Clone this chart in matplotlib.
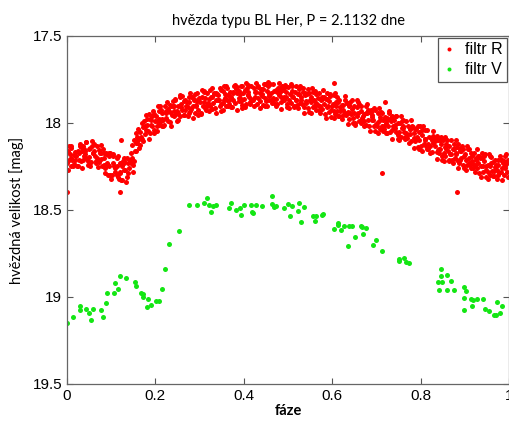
import matplotlib
matplotlib.use("Agg")
import matplotlib.pyplot as plt
from matplotlib.ticker import FormatStrFormatter

# filtr R - phase / magnitude
red_phase = [
    0.001, 0.003, 0.004, 0.007, 0.009, 0.010, 0.012, 0.015, 0.016, 0.018,
    0.021, 0.024, 0.025, 0.028, 0.029, 0.032, 0.033, 0.036, 0.037, 0.039,
    0.041, 0.043, 0.044, 0.047, 0.049, 0.050, 0.052, 0.055, 0.056, 0.058,
    0.061, 0.064, 0.065, 0.068, 0.069, 0.072, 0.073, 0.076, 0.077, 0.079,
    0.081, 0.083, 0.084, 0.087, 0.089, 0.090, 0.092, 0.095, 0.096, 0.098,
    0.101, 0.104, 0.105, 0.108, 0.109, 0.112, 0.113, 0.116, 0.117, 0.119,
    0.121, 0.123, 0.124, 0.127, 0.129, 0.130, 0.132, 0.135, 0.136, 0.138,
    0.141, 0.144, 0.145, 0.148, 0.149, 0.152, 0.153, 0.156, 0.157, 0.159,
    0.161, 0.163, 0.164, 0.167, 0.169, 0.170, 0.172, 0.175, 0.176, 0.178,
    0.181, 0.184, 0.185, 0.188, 0.189, 0.192, 0.193, 0.196, 0.197, 0.199,
    0.201, 0.203, 0.204, 0.207, 0.209, 0.210, 0.212, 0.215, 0.216, 0.218,
    0.221, 0.224, 0.225, 0.228, 0.229, 0.232, 0.233, 0.236, 0.237, 0.239,
    0.241, 0.243, 0.244, 0.247, 0.249, 0.250, 0.252, 0.255, 0.256, 0.258,
    0.261, 0.264, 0.265, 0.268, 0.269, 0.272, 0.273, 0.276, 0.277, 0.279,
    0.281, 0.283, 0.284, 0.287, 0.289, 0.290, 0.292, 0.295, 0.296, 0.298,
    0.301, 0.304, 0.305, 0.308, 0.309, 0.312, 0.313, 0.316, 0.317, 0.319,
    0.321, 0.323, 0.324, 0.327, 0.329, 0.330, 0.332, 0.335, 0.336, 0.338,
    0.341, 0.344, 0.345, 0.348, 0.349, 0.352, 0.353, 0.356, 0.357, 0.359,
    0.361, 0.363, 0.364, 0.367, 0.369, 0.370, 0.372, 0.375, 0.376, 0.378,
    0.381, 0.384, 0.385, 0.388, 0.389, 0.392, 0.393, 0.396, 0.397, 0.399,
    0.401, 0.403, 0.404, 0.407, 0.409, 0.410, 0.412, 0.415, 0.416, 0.418,
    0.421, 0.424, 0.425, 0.428, 0.429, 0.432, 0.433, 0.436, 0.437, 0.439,
    0.441, 0.443, 0.444, 0.447, 0.449, 0.450, 0.452, 0.455, 0.456, 0.458,
    0.461, 0.464, 0.465, 0.468, 0.469, 0.472, 0.473, 0.476, 0.477, 0.479,
    0.481, 0.483, 0.484, 0.487, 0.489, 0.490, 0.492, 0.495, 0.496, 0.498,
    0.501, 0.503, 0.504, 0.507, 0.509, 0.512, 0.513, 0.516, 0.517, 0.519,
    0.521, 0.523, 0.524, 0.527, 0.529, 0.530, 0.532, 0.535, 0.536, 0.538,
    0.541, 0.544, 0.545, 0.548, 0.549, 0.552, 0.553, 0.556, 0.557, 0.559,
    0.561, 0.563, 0.564, 0.567, 0.569, 0.570, 0.572, 0.575, 0.576, 0.578,
    0.581, 0.584, 0.585, 0.588, 0.589, 0.592, 0.593, 0.596, 0.597, 0.599,
    0.601, 0.603, 0.604, 0.607, 0.609, 0.610, 0.612, 0.615, 0.616, 0.618,
    0.621, 0.624, 0.625, 0.628, 0.629, 0.632, 0.633, 0.636, 0.637, 0.639,
    0.641, 0.643, 0.644, 0.647, 0.649, 0.650, 0.652, 0.655, 0.656, 0.658,
    0.661, 0.664, 0.665, 0.668, 0.669, 0.672, 0.673, 0.676, 0.677, 0.679,
    0.681, 0.683, 0.684, 0.687, 0.689, 0.690, 0.692, 0.695, 0.696, 0.698,
    0.701, 0.703, 0.704, 0.707, 0.709, 0.712, 0.713, 0.716, 0.717, 0.719,
    0.721, 0.723, 0.724, 0.727, 0.729, 0.730, 0.732, 0.735, 0.736, 0.738,
    0.741, 0.744, 0.745, 0.748, 0.749, 0.752, 0.753, 0.756, 0.757, 0.759,
    0.761, 0.763, 0.764, 0.767, 0.769, 0.770, 0.772, 0.775, 0.776, 0.778,
    0.781, 0.784, 0.785, 0.788, 0.789, 0.792, 0.793, 0.796, 0.797, 0.799,
    0.801, 0.803, 0.804, 0.807, 0.809, 0.810, 0.812, 0.815, 0.816, 0.818,
    0.821, 0.824, 0.825, 0.828, 0.829, 0.832, 0.833, 0.836, 0.837, 0.839,
    0.841, 0.843, 0.844, 0.847, 0.849, 0.850, 0.852, 0.855, 0.856, 0.858,
    0.861, 0.864, 0.865, 0.868, 0.869, 0.872, 0.873, 0.876, 0.877, 0.879,
    0.881, 0.883, 0.884, 0.887, 0.889, 0.890, 0.892, 0.895, 0.896, 0.898,
    0.901, 0.903, 0.904, 0.907, 0.909, 0.912, 0.913, 0.916, 0.917, 0.919,
    0.921, 0.924, 0.925, 0.928, 0.929, 0.930, 0.932, 0.935, 0.936, 0.938,
    0.941, 0.943, 0.944, 0.947, 0.949, 0.952, 0.953, 0.956, 0.957, 0.959,
    0.961, 0.964, 0.965, 0.968, 0.969, 0.970, 0.972, 0.975, 0.976, 0.978,
    0.981, 0.983, 0.984, 0.987, 0.989, 0.990, 0.992, 0.995, 0.996, 0.998,
    0.000, 0.121, 0.122, 0.605, 0.712, 0.720, 0.883,
]
red_mag = [
    18.23, 18.16, 18.21, 18.18, 18.25, 18.145, 18.215, 18.185, 18.235, 18.165,
    18.19, 18.25, 18.16, 18.21, 18.13, 18.22, 18.16, 18.13, 18.21, 18.19,
    18.16, 18.20, 18.11, 18.22, 18.15, 18.195, 18.145, 18.225, 18.135, 18.175,
    18.16, 18.19, 18.22, 18.13, 18.21, 18.225, 18.155, 18.205, 18.175, 18.245,
    18.15, 18.24, 18.20, 18.26, 18.17, 18.23, 18.30, 18.19, 18.25, 18.17,
    18.30, 18.23, 18.19, 18.28, 18.26, 18.25, 18.30, 18.19, 18.32, 18.23,
    18.29, 18.23, 18.33, 18.22, 18.27, 18.23, 18.27, 18.31, 18.20, 18.29,
    18.26, 18.17, 18.23, 18.20, 18.28, 18.10, 18.16, 18.115, 18.16, 18.08,
    18.095, 18.145, 18.05, 18.085, 18.00, 18.09, 18.025, 17.99, 18.065, 18.04,
    18.01, 18.045, 17.95, 18.055, 17.98, 18.015, 17.96, 18.04, 17.95, 17.99,
    17.96, 17.99, 18.02, 17.93, 18.01, 17.995, 17.925, 17.975, 17.945, 18.015,
    17.90, 17.97, 17.94, 17.99, 17.92, 17.935, 17.995, 17.905, 17.955, 17.875,
    17.96, 17.90, 17.87, 17.95, 17.93, 17.90, 17.94, 17.85, 17.96, 17.89,
    17.925, 17.875, 17.955, 17.865, 17.905, 17.88, 17.91, 17.94, 17.85, 17.93,
    17.92, 17.85, 17.90, 17.87, 17.94, 17.835, 17.905, 17.875, 17.925, 17.855,
    17.88, 17.94, 17.85, 17.90, 17.82, 17.915, 17.855, 17.825, 17.905, 17.885,
    17.86, 17.90, 17.81, 17.92, 17.85, 17.885, 17.835, 17.915, 17.825, 17.865,
    17.84, 17.87, 17.90, 17.81, 17.89, 17.885, 17.815, 17.865, 17.835, 17.905,
    17.80, 17.87, 17.84, 17.89, 17.82, 17.85, 17.91, 17.82, 17.87, 17.79,
    17.885, 17.825, 17.795, 17.875, 17.855, 17.835, 17.875, 17.785, 17.895, 17.825,
    17.86, 17.81, 17.89, 17.80, 17.84, 17.82, 17.85, 17.88, 17.79, 17.87,
    17.87, 17.80, 17.85, 17.82, 17.89, 17.785, 17.855, 17.825, 17.875, 17.805,
    17.835, 17.895, 17.805, 17.855, 17.775, 17.875, 17.815, 17.785, 17.865, 17.845,
    17.825, 17.865, 17.775, 17.885, 17.815, 17.86, 17.81, 17.89, 17.80, 17.84,
    17.82, 17.85, 17.88, 17.79, 17.87, 17.87, 17.80, 17.85, 17.82, 17.89,
    17.795, 17.865, 17.835, 17.885, 17.815, 17.85, 17.91, 17.82, 17.87, 17.79,
    17.895, 17.835, 17.805, 17.885, 17.865, 17.85, 17.89, 17.80, 17.91, 17.84,
    17.885, 17.835, 17.915, 17.825, 17.865, 17.85, 17.88, 17.91, 17.82, 17.90,
    17.905, 17.835, 17.885, 17.855, 17.925, 17.83, 17.90, 17.87, 17.92, 17.85,
    17.89, 17.95, 17.86, 17.91, 17.83, 17.935, 17.875, 17.845, 17.925, 17.905,
    17.89, 17.93, 17.84, 17.95, 17.88, 17.93, 17.88, 17.96, 17.87, 17.91,
    17.895, 17.925, 17.955, 17.865, 17.945, 17.955, 17.885, 17.935, 17.905, 17.975,
    17.88, 17.95, 17.92, 17.97, 17.90, 17.94, 18.00, 17.91, 17.96, 17.88,
    17.99, 17.93, 17.90, 17.98, 17.96, 17.95, 17.99, 17.90, 18.01, 17.94,
    17.985, 17.935, 18.015, 17.925, 17.965, 17.955, 17.985, 18.015, 17.925, 18.005,
    18.015, 17.945, 17.995, 17.965, 18.035, 17.945, 18.015, 17.985, 18.035, 17.965,
    18.00, 18.06, 17.97, 18.02, 17.94, 18.05, 17.99, 17.96, 18.04, 18.02,
    18.01, 18.05, 17.96, 18.07, 18.00, 18.05, 18.00, 18.08, 17.99, 18.03,
    18.02, 18.05, 18.08, 17.99, 18.07, 18.085, 18.015, 18.065, 18.035, 18.105,
    18.015, 18.085, 18.055, 18.105, 18.035, 18.08, 18.14, 18.05, 18.10, 18.02,
    18.13, 18.07, 18.04, 18.12, 18.10, 18.09, 18.13, 18.04, 18.15, 18.08,
    18.135, 18.085, 18.165, 18.075, 18.115, 18.105, 18.135, 18.165, 18.075, 18.155,
    18.17, 18.10, 18.15, 18.12, 18.19, 18.10, 18.17, 18.14, 18.19, 18.12,
    18.16, 18.22, 18.13, 18.18, 18.10, 18.21, 18.15, 18.12, 18.20, 18.18,
    18.17, 18.21, 18.12, 18.23, 18.16, 18.21, 18.16, 18.24, 18.15, 18.19,
    18.18, 18.21, 18.24, 18.15, 18.23, 18.24, 18.17, 18.22, 18.19, 18.26,
    18.17, 18.24, 18.21, 18.26, 18.19, 18.23, 18.29, 18.20, 18.25, 18.17,
    18.28, 18.22, 18.19, 18.27, 18.25, 18.24, 18.28, 18.19, 18.30, 18.23,
    18.275, 18.225, 18.305, 18.215, 18.255, 18.24, 18.27, 18.30, 18.21, 18.29,
    18.28, 18.21, 18.26, 18.23, 18.30, 18.19, 18.26, 18.23, 18.28, 18.21,
    18.395, 18.395, 18.10, 17.768, 18.289, 17.881, 18.395,
]

# filtr R - points along the outer edges of the band
red_phase_edge = [
    0.002, 0.005, 0.008, 0.010, 0.014, 0.017, 0.023, 0.026, 0.029, 0.032,
    0.035, 0.038, 0.040, 0.044, 0.047, 0.053, 0.056, 0.059, 0.062, 0.065,
    0.068, 0.070, 0.074, 0.077, 0.083, 0.086, 0.089, 0.092, 0.095, 0.098,
    0.100, 0.104, 0.107, 0.113, 0.116, 0.119, 0.122, 0.125, 0.128, 0.130,
    0.134, 0.137, 0.143, 0.146, 0.149, 0.152, 0.155, 0.158, 0.161, 0.165,
    0.168, 0.173, 0.176, 0.179, 0.182, 0.185, 0.188, 0.190, 0.194, 0.197,
    0.203, 0.206, 0.209, 0.211, 0.214, 0.217, 0.220, 0.224, 0.227, 0.233,
    0.236, 0.239, 0.241, 0.245, 0.248, 0.252, 0.255, 0.258, 0.260, 0.264,
    0.267, 0.273, 0.276, 0.279, 0.282, 0.285, 0.288, 0.291, 0.294, 0.297,
    0.303, 0.306, 0.309, 0.310, 0.314, 0.317, 0.322, 0.325, 0.328, 0.333,
    0.336, 0.339, 0.341, 0.345, 0.348, 0.352, 0.355, 0.358, 0.360, 0.364,
    0.367, 0.373, 0.376, 0.379, 0.382, 0.385, 0.388, 0.391, 0.394, 0.397,
    0.403, 0.406, 0.409, 0.410, 0.414, 0.417, 0.422, 0.425, 0.428, 0.433,
    0.436, 0.439, 0.441, 0.445, 0.448, 0.452, 0.455, 0.458, 0.460, 0.464,
    0.467, 0.473, 0.476, 0.479, 0.482, 0.485, 0.488, 0.491, 0.494, 0.497,
    0.503, 0.506, 0.509, 0.510, 0.514, 0.517, 0.522, 0.525, 0.528, 0.533,
    0.536, 0.539, 0.541, 0.545, 0.548, 0.552, 0.555, 0.558, 0.560, 0.564,
    0.567, 0.573, 0.576, 0.579, 0.582, 0.585, 0.588, 0.591, 0.594, 0.597,
    0.603, 0.606, 0.609, 0.610, 0.614, 0.617, 0.622, 0.625, 0.628, 0.633,
    0.636, 0.639, 0.641, 0.645, 0.648, 0.652, 0.655, 0.658, 0.660, 0.664,
    0.667, 0.673, 0.676, 0.679, 0.682, 0.685, 0.688, 0.691, 0.694, 0.697,
    0.703, 0.706, 0.709, 0.710, 0.714, 0.717, 0.722, 0.725, 0.728, 0.733,
    0.736, 0.739, 0.741, 0.745, 0.748, 0.752, 0.755, 0.758, 0.760, 0.764,
    0.767, 0.773, 0.776, 0.779, 0.782, 0.785, 0.788, 0.791, 0.794, 0.797,
    0.803, 0.806, 0.809, 0.810, 0.814, 0.817, 0.822, 0.825, 0.828, 0.833,
    0.836, 0.839, 0.841, 0.845, 0.848, 0.852, 0.855, 0.858, 0.860, 0.864,
    0.867, 0.873, 0.876, 0.879, 0.882, 0.885, 0.888, 0.891, 0.894, 0.897,
    0.903, 0.906, 0.909, 0.910, 0.914, 0.917, 0.922, 0.925, 0.928, 0.933,
    0.936, 0.939, 0.941, 0.945, 0.948, 0.952, 0.955, 0.958, 0.960, 0.964,
    0.967, 0.973, 0.976, 0.979, 0.982, 0.985, 0.988, 0.991, 0.994, 0.997,
]
red_mag_edge = [
    18.27, 18.13, 18.20, 18.135, 18.245, 18.215, 18.25, 18.17, 18.12, 18.14,
    18.26, 18.15, 18.18, 18.11, 18.24, 18.245, 18.105, 18.175, 18.12, 18.23,
    18.20, 18.255, 18.175, 18.125, 18.17, 18.29, 18.18, 18.24, 18.17, 18.30,
    18.32, 18.18, 18.25, 18.20, 18.31, 18.28, 18.33, 18.25, 18.20, 18.22,
    18.34, 18.23, 18.21, 18.125, 18.24, 18.22, 18.06, 18.115, 18.035, 18.125,
    18.08, 18.105, 18.015, 17.955, 17.975, 18.09, 17.975, 18.01, 17.93, 18.06,
    18.045, 17.905, 17.975, 17.905, 18.015, 17.985, 18.01, 17.93, 17.88, 17.895,
    18.015, 17.905, 17.93, 17.86, 17.99, 17.98, 17.84, 17.91, 17.845, 17.955,
    17.925, 17.96, 17.88, 17.83, 17.85, 17.97, 17.86, 17.895, 17.825, 17.955,
    17.95, 17.81, 17.88, 17.815, 17.925, 17.895, 17.93, 17.85, 17.80, 17.825,
    17.945, 17.835, 17.87, 17.80, 17.93, 17.925, 17.785, 17.855, 17.79, 17.90,
    17.87, 17.91, 17.83, 17.78, 17.805, 17.925, 17.815, 17.855, 17.785, 17.915,
    17.91, 17.77, 17.84, 17.78, 17.89, 17.86, 17.90, 17.82, 17.77, 17.795,
    17.915, 17.805, 17.845, 17.775, 17.905, 17.905, 17.765, 17.835, 17.775, 17.885,
    17.855, 17.90, 17.82, 17.77, 17.80, 17.92, 17.81, 17.85, 17.78, 17.91,
    17.915, 17.775, 17.845, 17.79, 17.90, 17.87, 17.915, 17.835, 17.785, 17.82,
    17.94, 17.83, 17.875, 17.805, 17.935, 17.94, 17.80, 17.87, 17.815, 17.925,
    17.895, 17.94, 17.86, 17.81, 17.85, 17.97, 17.86, 17.905, 17.835, 17.965,
    17.97, 17.83, 17.90, 17.85, 17.96, 17.93, 17.975, 17.895, 17.845, 17.885,
    18.005, 17.895, 17.94, 17.87, 18.00, 18.01, 17.87, 17.94, 17.89, 18.00,
    17.97, 18.02, 17.94, 17.89, 17.925, 18.045, 17.935, 17.985, 17.915, 18.045,
    18.055, 17.915, 17.985, 17.935, 18.045, 18.015, 18.06, 17.98, 17.93, 17.97,
    18.09, 17.98, 18.03, 17.96, 18.09, 18.10, 17.96, 18.03, 17.98, 18.09,
    18.06, 18.115, 18.035, 17.985, 18.025, 18.145, 18.035, 18.09, 18.02, 18.15,
    18.16, 18.02, 18.09, 18.04, 18.15, 18.12, 18.175, 18.095, 18.045, 18.085,
    18.205, 18.095, 18.15, 18.08, 18.21, 18.22, 18.08, 18.15, 18.10, 18.21,
    18.18, 18.23, 18.15, 18.10, 18.14, 18.26, 18.15, 18.20, 18.13, 18.26,
    18.27, 18.13, 18.20, 18.15, 18.26, 18.23, 18.28, 18.20, 18.15, 18.19,
    18.31, 18.20, 18.25, 18.18, 18.31, 18.32, 18.18, 18.25, 18.195, 18.305,
    18.275, 18.32, 18.24, 18.19, 18.21, 18.33, 18.22, 18.25, 18.18, 18.31,
]

# filtr V
green_phase = [
    0.000, 0.014, 0.029, 0.029, 0.044, 0.049, 0.055, 0.059, 0.078, 0.081,
    0.088, 0.091, 0.106, 0.109, 0.116, 0.121, 0.134, 0.154, 0.157, 0.167,
    0.172, 0.173, 0.183, 0.181, 0.189, 0.202, 0.209, 0.214, 0.222, 0.231,
    0.253, 0.276, 0.295, 0.311, 0.316, 0.321, 0.326, 0.330, 0.336, 0.366,
    0.370, 0.382, 0.392, 0.394, 0.401, 0.416, 0.419, 0.421, 0.428, 0.440,
    0.464, 0.463, 0.468, 0.473, 0.491, 0.501, 0.504, 0.508, 0.522, 0.525,
    0.529, 0.536, 0.557, 0.563, 0.561, 0.578, 0.580, 0.603, 0.613, 0.614,
    0.620, 0.627, 0.637, 0.636, 0.645, 0.652, 0.664, 0.668, 0.670, 0.676,
    0.693, 0.698, 0.712, 0.750, 0.752, 0.763, 0.768, 0.774, 0.846, 0.847,
    0.859, 0.840, 0.848, 0.868, 0.841, 0.859, 0.875, 0.899, 0.903, 0.898,
    0.913, 0.918, 0.916, 0.927, 0.940, 0.899, 0.945, 0.955, 0.966, 0.971,
    0.980, 0.972, 0.985,
]
green_mag = [
    19.151, 19.117, 19.052, 19.075, 19.067, 19.094, 19.132, 19.067, 19.075, 19.113,
    19.033, 18.975, 18.975, 18.920, 18.954, 18.879, 18.893, 18.916, 18.935, 18.975,
    18.983, 18.998, 19.013, 19.059, 19.046, 19.025, 19.025, 18.956, 18.841, 18.697,
    18.619, 18.469, 18.471, 18.462, 18.431, 18.473, 18.513, 18.477, 18.469, 18.490,
    18.462, 18.500, 18.487, 18.527, 18.469, 18.469, 18.510, 18.519, 18.471, 18.475,
    18.420, 18.464, 18.485, 18.477, 18.490, 18.466, 18.534, 18.479, 18.508, 18.458,
    18.569, 18.485, 18.534, 18.534, 18.561, 18.531, 18.521, 18.609, 18.573, 18.588,
    18.617, 18.590, 18.590, 18.707, 18.590, 18.655, 18.592, 18.596, 18.640, 18.602,
    18.703, 18.672, 18.737, 18.783, 18.791, 18.776, 18.799, 18.803, 18.839, 18.878,
    18.876, 18.916, 18.916, 18.906, 18.958, 18.958, 18.958, 18.943, 18.964, 19.006,
    19.010, 19.019, 19.050, 19.010, 19.011, 19.073, 19.071, 19.079, 19.101, 19.103,
    19.090, 19.029, 19.053,
]

y_ticks = [17.5, 18, 18.5, 19, 19.5]
x_ticks = [0, 0.2, 0.4, 0.6, 0.8, 1]

plt.rcParams['font.family'] = ['Liberation Sans', 'DejaVu Sans']

fig = plt.figure(figsize=(5.1, 4.25), dpi=100)
ax = fig.add_axes([0.1314, 0.0965, 0.8667, 0.8188])

ax.plot(red_phase + red_phase_edge, red_mag + red_mag_edge, 'o',
        color='#ff0000', markersize=3.6, markeredgewidth=0, label='filtr R')
ax.plot(green_phase, green_mag, 'o', color='#14e614', markersize=3.6,
        markeredgewidth=0, label='filtr V')

ax.set_xlim(0, 1)
ax.set_ylim(19.5, 17.5)
ax.set_xticks(x_ticks)
ax.set_yticks(y_ticks)
ax.xaxis.set_major_formatter(FormatStrFormatter('%g'))
ax.yaxis.set_major_formatter(FormatStrFormatter('%g'))
ax.tick_params(direction='in', top=True, right=True, length=4,
               color='#555555', labelsize=11)
for s in ax.spines.values():
    s.set_color('#666666')
    s.set_linewidth(0.9)

ax.set_title('hvězda typu BL Her, P = 2.1132 dne', family='Lato',
             fontsize=10.5, pad=8)
ax.set_xlabel('fáze', family='Lato', fontsize=10.5, fontweight='bold',
              labelpad=1)
ax.set_ylabel('hvězdná velikost [mag]', family='Lato', fontsize=10.5,
              labelpad=6)

leg = ax.legend(loc='upper right', fontsize=11.5, markerscale=0.8,
                handlelength=0.8, handletextpad=0.6, borderaxespad=0.1,
                fancybox=False, framealpha=1, edgecolor='#555555',
                borderpad=0.3, labelspacing=0.3)
leg.get_frame().set_linewidth(0.9)

fig.savefig('out.png', dpi=100)
